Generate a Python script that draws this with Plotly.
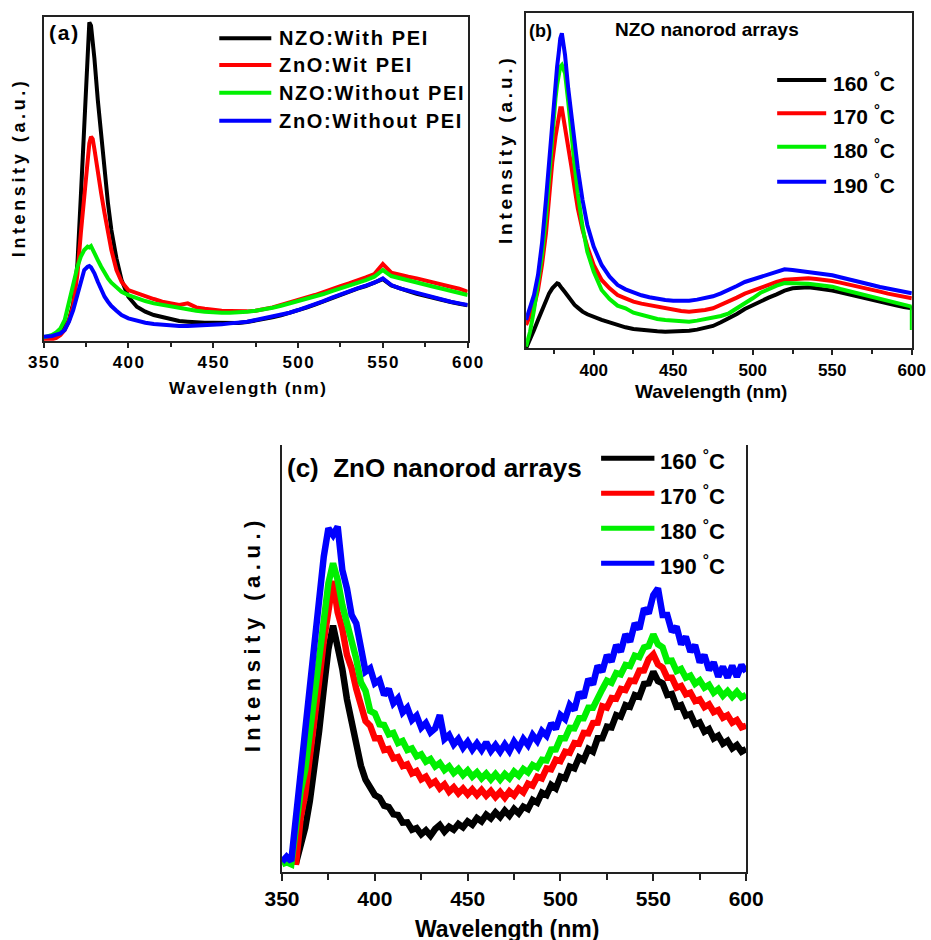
import plotly.graph_objects as go

W, H = 931, 940
FONT = "Arial, Liberation Sans, sans-serif"
HAIR = "\u200a"
THIN = "\u2009"
QUARTER = "\u2005"

BLACK, RED, GREEN, BLUE = "#000000", "#ff0000", "#00f000", "#0000ff"

# ---------------- (a) NZO / ZnO with and without PEI ----------------
wl_a = [350, 352.5, 355, 357.5, 360, 362.5, 365, 367.5, 370,
        372, 374, 376, 377, 378, 379, 380, 382, 384, 386, 388, 390,
        393, 396,
        400, 405, 410, 415, 420, 425, 430, 435, 440, 445, 450, 455, 460, 465, 470,
        475, 480, 485, 490, 495, 500, 505, 510, 515, 520, 525, 530, 535, 540, 545,
        550, 555, 560, 565, 570, 575, 580, 585, 590, 595, 600]
nzo_with_pei = [7, 9, 14, 19, 27, 40, 62, 112, 232,
                432, 652, 882, 955, 945, 902, 847, 722, 612, 502, 412, 332,
                247, 182,
                132, 102, 87, 77, 70, 64, 59, 57, 55, 54, 54, 54, 52, 53, 56,
                60, 65, 70, 76, 83, 91, 99, 108, 118, 128, 138, 148, 156, 164, 173,
                185, 166, 156, 149, 141, 134, 128, 121, 116, 111, 106]
zno_with_pei = [2, 3, 4, 8, 17, 32, 60, 105, 200,
                322, 442, 552, 592, 612, 605, 575, 502, 442, 382, 322, 272,
                212, 177,
                152, 142, 132, 125, 117, 112, 107, 112, 100, 96, 92, 90, 89, 88, 88,
                90, 94, 100, 107, 114, 122, 129, 137, 146, 156, 164, 172, 180, 190, 200,
                230, 204, 197, 192, 187, 180, 174, 167, 162, 156, 147]
nzo_without_pei = [10, 13, 17, 25, 37, 62, 117, 172, 222,
                   252, 272, 282, 280, 284, 275, 262, 242, 222, 202, 187, 174,
                   160, 147,
                   137, 127, 119, 112, 107, 102, 97, 94, 90, 87, 85, 84, 84, 85, 87,
                   90, 94, 99, 105, 112, 117, 124, 132, 140, 149, 157, 164, 172, 182, 192,
                   212, 194, 187, 180, 174, 167, 162, 156, 150, 144, 137]
zno_without_pei = [12, 13, 14, 18, 22, 32, 57, 92, 142,
                   182, 212, 222, 224, 220, 212, 202, 177, 152, 132, 117, 104,
                   90, 77,
                   67, 59, 54, 50, 47, 45, 44, 44, 45, 46, 47, 49, 52, 54, 57,
                   62, 67, 72, 77, 84, 92, 100, 109, 119, 129, 139, 149, 157, 165, 174,
                   187, 167, 157, 150, 142, 135, 129, 122, 117, 112, 107]
labels_a = ["NZO:With PEI", "ZnO:Wit PEI", "NZO:Without PEI", "ZnO:Without PEI"]

# ---------------- (b) NZO nanorod arrays ----------------
wl_b = [357.5, 360, 362.5, 365, 367.5, 370,
        372, 374, 376, 377, 378, 379, 380, 382, 384, 386, 388, 390,
        393, 396,
        400, 405, 410, 415, 420, 425, 430, 435, 440, 445, 450, 455, 460, 465, 470,
        475, 480, 485, 490, 495, 500, 505, 510, 515, 520, 525, 530, 535, 540, 545,
        550, 555, 560, 565, 570, 575, 580, 585, 590, 595, 600]
nzo_160 = [0, 25, 55, 85, 115, 145,
           165, 180, 190, 195, 193, 185, 180, 168, 155, 140, 130, 122,
           110, 102,
           93, 85, 78, 70, 63, 58, 55, 52, 51, 50, 50, 51, 53, 56, 60,
           67, 78, 90, 103, 118, 130, 142, 152, 162, 173, 180, 183, 183, 180, 178,
           173, 168, 162, 156, 150, 144, 139, 134, 129, 124, 120]
nzo_170 = [70, 95, 125, 175, 250, 345,
           460, 560, 635, 670, 700, 720, 720, 665, 605, 545, 480, 420,
           355, 305,
           250, 205, 180, 160, 150, 140, 134, 129, 124, 119, 115, 112, 110, 112, 115,
           120, 130, 140, 152, 164, 173, 183, 191, 199, 206, 208, 210, 210, 208, 206,
           202, 197, 192, 186, 180, 175, 170, 164, 159, 155, 150]
# the 180 °C spectrum ends with a sharp drop in its last reading at 600 nm
wl_b_180 = wl_b + [600]
nzo_180 = [5, 50, 115, 190, 280, 395,
           520, 640, 750, 790, 820, 845, 850, 825, 740, 635, 550, 465,
           365, 290,
           230, 175, 148, 128, 120, 107, 100, 93, 88, 85, 83, 81, 80, 83, 87,
           90, 97, 105, 120, 133, 150, 167, 178, 188, 196, 196, 195, 194, 191, 189,
           185, 178, 172, 166, 160, 155, 150, 144, 138, 131, 125, 55]
nzo_190 = [85, 120, 160, 220, 315, 445,
           570, 690, 800, 845, 885, 930, 945, 880, 780, 695, 615, 540,
           445, 370,
           305, 250, 215, 190, 177, 167, 159, 153, 148, 145, 143, 142, 143, 146, 151,
           156, 165, 175, 187, 199, 207, 214, 221, 228, 237, 235, 232, 230, 227, 224,
           219, 213, 208, 202, 196, 190, 184, 179, 174, 169, 165]

# ---------------- (c) ZnO nanorod arrays ----------------
wl_c = [350, 352.5, 355, 357.5, 360, 362.5, 365, 367.5, 370, 372.5,
        375, 377.5, 380, 382.5, 385, 387.5, 390, 392.5, 395, 397.5,
        400, 402.5, 405, 407.5, 410, 412.5, 415, 417.5, 420, 422.5,
        425, 427.5, 430, 432.5, 435, 437.5, 440, 442.5, 445, 447.5,
        450, 452.5, 455, 457.5, 460, 462.5, 465, 467.5, 470, 472.5,
        475, 477.5, 480, 482.5, 485, 487.5, 490, 492.5, 495, 497.5,
        500, 502.5, 505, 507.5, 510, 512.5, 515, 517.5, 520, 522.5,
        525, 527.5, 530, 532.5, 535, 537.5, 540, 542.5, 545, 547.5,
        550, 552.5, 555, 557.5, 560, 562.5, 565, 567.5, 570, 572.5,
        575, 577.5, 580, 582.5, 585, 587.5, 590, 592.5, 595, 597.5, 600]
zno_160 = [None, None, None, 25, 75, 132, 212, 312, 422, 548,
           668, 738, 682, 608, 517, 443, 367, 318, 276, 256,
           230, 222, 198, 194, 172, 170, 147, 148, 126, 131,
           112, 124, 108, 128, 140, 120, 135, 126, 143, 133,
           151, 141, 161, 151, 171, 160, 178, 164, 183, 168,
           188, 175, 195, 188, 215, 207, 237, 230, 260, 250,
           285, 280, 315, 310, 343, 335, 368, 360, 400, 400,
           435, 433, 470, 465, 500, 495, 530, 525, 563, 565,
           600, 572, 565, 530, 533, 495, 500, 468, 473, 442,
           448, 420, 428, 400, 408, 384, 393, 370, 380, 360, 368]
zno_170 = [None, None, None, 20, 160, 232, 335, 458, 572, 692,
           798, 872, 778, 728, 650, 610, 548, 502, 452, 438,
           400, 400, 365, 368, 340, 344, 317, 322, 295, 302,
           277, 285, 262, 271, 250, 262, 240, 253, 235, 249,
           232, 247, 230, 245, 228, 242, 224, 239, 222, 241,
           229, 249, 238, 264, 258, 285, 280, 310, 307, 336,
           332, 360, 357, 386, 384, 416, 415, 446, 447, 496,
           492, 521, 519, 548, 545, 573, 572, 603, 604, 638,
           652, 622, 612, 582, 582, 552, 557, 532, 537, 512,
           517, 494, 502, 479, 485, 462, 469, 447, 455, 433, 438]
zno_180 = [22, 28, 22, 150, 240, 305, 420, 520, 650, 735,
           865, 925, 875, 800, 750, 682, 638, 568, 542, 482,
           475, 442, 440, 412, 416, 386, 392, 365, 370, 346,
           352, 330, 338, 316, 326, 305, 316, 296, 308, 290,
           304, 285, 298, 280, 294, 277, 293, 276, 293, 280,
           300, 288, 308, 298, 320, 312, 336, 334, 366, 367,
           400, 400, 431, 430, 460, 460, 492, 492, 523, 547,
           573, 567, 596, 592, 620, 617, 648, 644, 673, 677,
           712, 682, 673, 632, 633, 602, 608, 582, 588, 564,
           574, 552, 560, 537, 548, 528, 542, 525, 540, 523, 530]
zno_190 = [30, 45, 32, 165, 280, 430, 540, 690, 790, 945,
           1030, 1010, 1035, 905, 850, 770, 745, 675, 600, 610,
           565, 575, 530, 548, 505, 520, 478, 492, 455, 468,
           432, 446, 418, 430, 470, 398, 410, 382, 398, 372,
           390, 366, 385, 365, 388, 362, 380, 360, 382, 362,
           390, 370, 398, 380, 410, 392, 422, 408, 445, 428,
           470, 458, 500, 485, 538, 522, 578, 562, 618, 600,
           650, 630, 680, 660, 712, 690, 745, 728, 790, 775,
           830, 850, 770, 770, 720, 735, 682, 705, 660, 680,
           628, 650, 605, 628, 585, 615, 582, 618, 585, 620, 600]
labels_temp = ["160", "170", "180", "190"]
colors = [BLACK, RED, GREEN, BLUE]


# page coordinates (pixels from the top-left corner) -> paper fractions
def px(x):
    return ((x - 18.8) / 0.961) / W


def py(y):
    return 1 - y / H


def spread(text, gap):
    return gap.join(text)


fig = go.Figure()

for ys, c in zip([nzo_with_pei, zno_with_pei, nzo_without_pei, zno_without_pei], colors):
    fig.add_trace(go.Scatter(x=wl_a, y=ys, mode="lines", line=dict(color=c, width=4),
                             xaxis="x", yaxis="y", showlegend=False, hoverinfo="skip"))
for xs, ys, c in zip([wl_b, wl_b, wl_b_180, wl_b], [nzo_160, nzo_170, nzo_180, nzo_190], colors):
    fig.add_trace(go.Scatter(x=xs, y=ys, mode="lines", line=dict(color=c, width=4),
                             xaxis="x2", yaxis="y2", showlegend=False, hoverinfo="skip"))
for ys, c in zip([zno_160, zno_170, zno_180, zno_190], colors):
    fig.add_trace(go.Scatter(x=wl_c, y=ys, mode="lines", line=dict(color=c, width=6.5),
                             xaxis="x3", yaxis="y3", showlegend=False, hoverinfo="skip"))


def xaxis_style(domain, rng, size, ticklen, mirror, ticktext=None):
    ax = dict(domain=domain, range=rng, showline=True, linecolor="#222", linewidth=1.6,
              mirror=mirror, ticks="outside", ticklen=ticklen, tickwidth=1.5,
              tickcolor="#222", showgrid=False, zeroline=False,
              tick0=350, dtick=50,
              minor=dict(dtick=25, ticks="outside", ticklen=ticklen - 1, tickwidth=1.5,
                         tickcolor="#222", showgrid=False),
              tickfont=dict(family=FONT, size=size, color="black", weight="bold"))
    if ticktext is not None:
        ax.update(tickmode="array", tickvals=ticktext[0], ticktext=ticktext[1])
    return ax


def yaxis_style(domain, rng, anchor):
    return dict(domain=domain, range=rng, anchor=anchor, showline=True, linecolor="#222",
                linewidth=1.6, mirror=True, ticks="", showticklabels=False,
                showgrid=False, zeroline=False)


ticks_a = [350, 400, 450, 500, 550, 600]
fig.update_layout(
    width=W, height=H, margin=dict(l=0, r=0, t=0, b=0),
    paper_bgcolor="white", plot_bgcolor="white", showlegend=False,
    xaxis=xaxis_style([px(44.3), px(468.3)], [350, 600], 17, 5, True,
                      (ticks_a, [spread(str(t), HAIR) for t in ticks_a])),
    yaxis=yaxis_style([py(340.7), py(16.7)], [0, 972], "x"),
    xaxis2=xaxis_style([px(526.7), px(912.3)], [357.5, 600], 17, 5, True),
    yaxis2=yaxis_style([py(348.3), py(12.7)], [0, 1007], "x2"),
    xaxis3=xaxis_style([px(282.7), px(746.7)], [350, 600], 21, 7, False),
    yaxis3=yaxis_style([py(871.7), py(445)], [0, 1280], "x3"),
)
fig.layout.xaxis.anchor = "y"
fig.layout.xaxis2.anchor = "y2"
fig.layout.xaxis3.anchor = "y3"


def text(x, y, s, size, xanchor="center", angle=0):
    fig.add_annotation(x=px(x), y=py(y), xref="paper", yref="paper", text=s,
                       showarrow=False, xanchor=xanchor, yanchor="middle",
                       textangle=angle, borderpad=0,
                       font=dict(family=FONT, size=size, color="black", weight="bold"))


def legend_line(x0, x1, y, color, width):
    fig.add_shape(type="line", xref="paper", yref="paper", x0=px(x0), x1=px(x1),
                  y0=py(y), y1=py(y), line=dict(color=color, width=width))


# axis titles
text(248, 388, spread("Wavelength (nm)", HAIR), 17)
text(20, 169, spread("Intensity (a.u.)", THIN), 18, angle=-90)
text(712, 392, "Wavelength (nm)", 19)
text(506.7, 151, spread("Intensity (a.u.)", THIN), 19, angle=-90)
text(508, 929, "Wavelength (nm)", 23)
text(253, 636, spread("Intensity (a.u.)", QUARTER), 22, angle=-90)

# panel labels
text(64, 33, spread("(a)", HAIR), 21)
text(541, 31, "(b)", 18)
text(708, 30, "NZO nanorod arrays", 19)
text(287, 468, "(c)\u00a0\u00a0ZnO nanorod arrays", 26, xanchor="left")

# legends
for lab, c, y in zip(labels_a, colors, [38.3, 65, 92.7, 120.7]):
    legend_line(220, 272, y, c, 4)
    text(279, y, spread(lab, HAIR), 20, xanchor="left")
for lab, c, y in zip(labels_temp, colors, [80, 113.3, 146.7, 181.7]):
    legend_line(777.7, 826.7, y, c, 4)
    text(832.7, y + 2, lab + " <sup>°</sup>C", 21, xanchor="left")
for lab, c, y in zip(labels_temp, colors, [458.3, 493.3, 528.3, 563.3]):
    legend_line(601.7, 655, y, c, 5)
    text(660, y + 2, lab + " <sup>°</sup>C", 22, xanchor="left")

fig.write_html("out.html")
